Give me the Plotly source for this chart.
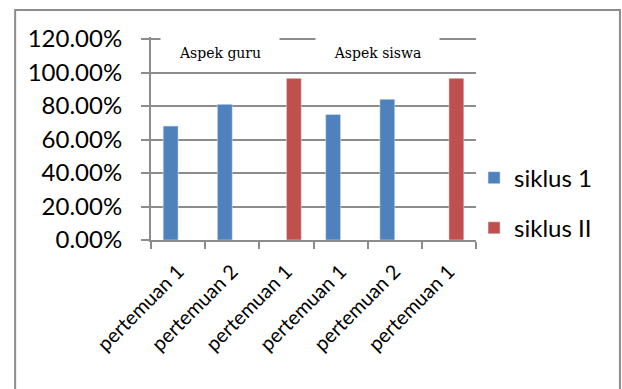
import plotly.graph_objects as go

# Data
categories = ["pertemuan 1", "pertemuan 2", "pertemuan 1", "pertemuan 1", "pertemuan 2", "pertemuan 1"]
siklus_1 = [0.68, 0.81, None, 0.75, 0.84, None]
siklus_2 = [None, None, 0.965, None, None, 0.965]
y_ticks = [0.0, 0.2, 0.4, 0.6, 0.8, 1.0, 1.2]
group_labels = ["Aspek guru", "Aspek siswa"]

x_pos = list(range(len(categories)))
grid = "#8c8c8c"

fig = go.Figure()
fig.add_bar(x=x_pos, y=siklus_1, name="siklus 1", marker_color="#4F81BD",
            legendgroup="a")
fig.add_bar(x=x_pos, y=siklus_2, name="siklus II", marker_color="#C0504D",
            legendgroup="b")

fig.update_layout(
    width=622, height=389,
    margin=dict(l=151, r=146, t=37, b=149),
    paper_bgcolor="white", plot_bgcolor="white",
    barmode="group", bargap=0.45, bargroupgap=0,
    font=dict(family="Lato", color="black"),
    legend=dict(x=0.994, xanchor="left", y=0.182, yanchor="middle",
                font=dict(size=24, family="Lato"), tracegroupgap=16,
                traceorder="grouped", bgcolor="rgba(0,0,0,0)"),
)

fig.update_xaxes(
    range=[-0.5, len(categories) - 0.5],
    tickmode="array", tickvals=x_pos, ticktext=categories,
    tickangle=-45, tickfont=dict(size=20), ticks="",
    ticklabelstandoff=10,
    showgrid=False, zeroline=False,
    showline=True, linecolor=grid, linewidth=2,
    minor=dict(tickmode="array", tickvals=[i - 0.5 for i in range(len(categories) + 1)],
               ticks="outside", ticklen=7, tickcolor=grid, tickwidth=1.5, showgrid=False),
)

fig.update_yaxes(
    range=[0, 1.212], tickmode="array", tickvals=y_ticks, tickformat=".2%",
    tickfont=dict(size=24), ticks="outside", ticklen=8, tickcolor=grid, tickwidth=2,
    ticklabelstandoff=14,
    showgrid=True, gridcolor=grid, gridwidth=2, zeroline=False,
    showline=True, linecolor=grid, linewidth=2,
)

# Group captions in white boxes over the top gridline
for label, xc, w in zip(group_labels, [0.2123, 0.697], [116, 121]):
    fig.add_annotation(
        text=label, xref="paper", yref="paper", x=xc, y=0.921,
        xanchor="center", yanchor="middle", showarrow=False,
        width=w, height=30, bgcolor="white",
        font=dict(family="DejaVu Serif", size=14, color="black"),
    )

# Outer chart frame
fig.add_shape(type="rect", xref="paper", yref="paper",
              x0=-0.418, x1=1.443, y0=-0.8, y1=1.133,
              line=dict(color="#8c8c8c", width=2), fillcolor="rgba(0,0,0,0)",
              layer="below")

fig.write_html("out.html")
